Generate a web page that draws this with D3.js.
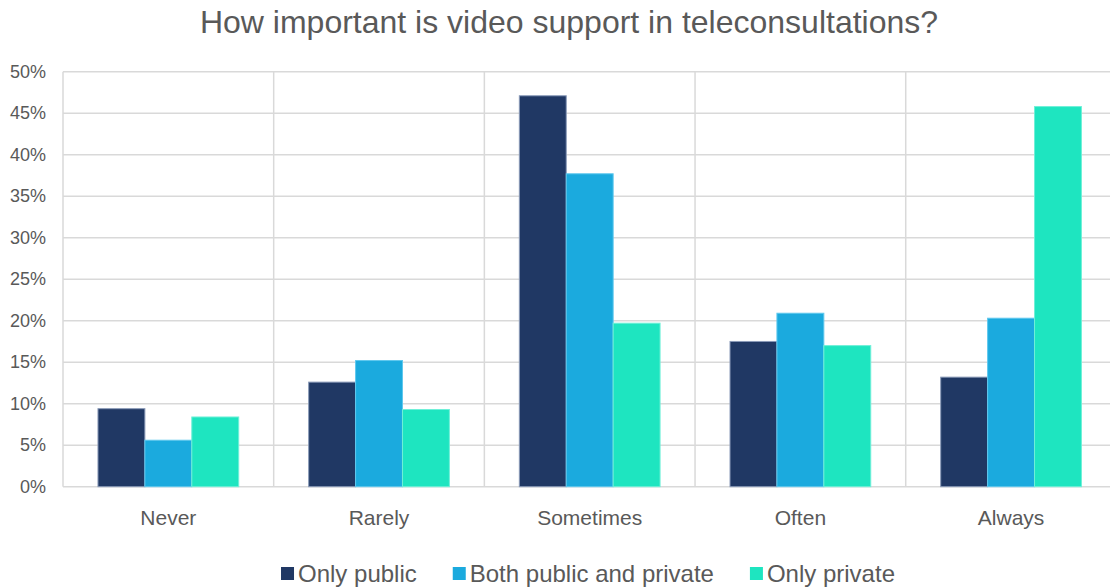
<!DOCTYPE html>
<html>
<head>
<meta charset="utf-8">
<script src="https://cdn.jsdelivr.net/npm/d3@7"></script>
<style>
  body { margin: 0; background: #fff; }
  text { font-family: "Liberation Sans", Arial, sans-serif; fill: #595959; }
</style>
</head>
<body>
<div id="chart"></div>
<script>
const categories = ["Never", "Rarely", "Sometimes", "Often", "Always"];
const seriesNames = ["Only public", "Both public and private", "Only private"];
const onlyPublic = [9.4, 12.6, 47.1, 17.5, 13.2];
const bothPublicPrivate = [5.6, 15.2, 37.7, 20.9, 20.3];
const onlyPrivate = [8.4, 9.3, 19.7, 17.0, 45.8];
const yTicks = [0, 5, 10, 15, 20, 25, 30, 35, 40, 45, 50];
const colors = ["#203864", "#1BAADE", "#1EE5C0"];
const strokes = ["#8a9ab8", "#5fc8ee", "#6ff0d8"];

const width = 1110, height = 588;
const margin = { top: 72, left: 63, bottom: 101 };
const plotRight = 1116.4;

const svg = d3.select("#chart").append("svg")
  .attr("width", width)
  .attr("height", height);

// build rows for the grouped bars
const values = [onlyPublic, bothPublicPrivate, onlyPrivate];
const data = categories.map(function (c, i) {
  return { cat: c, vals: seriesNames.map(function (s, j) { return { series: s, idx: j, v: values[j][i] }; }) };
});

const x = d3.scaleBand().domain(categories).range([margin.left, plotRight]).padding(0);
const x1 = d3.scaleBand().domain(seriesNames)
  .range([x.bandwidth() * 0.166, x.bandwidth() * 0.834]);
const y = d3.scaleLinear().domain([0, 50]).range([height - margin.bottom - 0.3, margin.top - 0.3]);

// horizontal grid
svg.append("g")
  .selectAll("line")
  .data(yTicks)
  .join("line")
  .attr("x1", margin.left)
  .attr("x2", plotRight)
  .attr("y1", d => y(d))
  .attr("y2", d => y(d))
  .attr("stroke", "#d9d9d9")
  .attr("stroke-width", 1.5);

// vertical separators between categories
svg.append("g")
  .selectAll("line")
  .data(categories.concat(["end"]))
  .join("line")
  .attr("x1", (d, i) => i < categories.length ? x(d) : plotRight)
  .attr("x2", (d, i) => i < categories.length ? x(d) : plotRight)
  .attr("y1", y(0))
  .attr("y2", y(50))
  .attr("stroke", "#d9d9d9")
  .attr("stroke-width", 1.5);

// y axis labels
const yAxis = svg.append("g")
  .attr("transform", `translate(${margin.left},0)`)
  .call(d3.axisLeft(y).tickValues(yTicks).tickSize(0).tickPadding(17).tickFormat(d => d + "%"));
yAxis.select(".domain").remove();
yAxis.selectAll("text")
  .style("font-size", "18px")
  .style("font-family", "'Liberation Sans', Arial, sans-serif")
  .attr("fill", "#595959");

// bars
const groups = svg.append("g")
  .selectAll("g")
  .data(data)
  .join("g")
  .attr("transform", d => `translate(${x(d.cat)},0)`);

groups.selectAll("rect")
  .data(d => d.vals)
  .join("rect")
  .attr("x", d => x1(d.series))
  .attr("width", x1.bandwidth())
  .attr("y", d => y(d.v))
  .attr("height", d => y(0) - y(d.v))
  .attr("fill", d => colors[d.idx])
  .attr("stroke", d => strokes[d.idx])
  .attr("stroke-width", 1);

// x labels
const xAxis = svg.append("g")
  .attr("transform", `translate(0,${y(0)})`)
  .call(d3.axisBottom(x).tickSize(0).tickPadding(23));
xAxis.select(".domain").remove();
xAxis.selectAll("text")
  .style("font-size", "21px")
  .style("font-family", "'Liberation Sans', Arial, sans-serif")
  .attr("fill", "#595959");

// title
svg.append("text")
  .attr("x", 569)
  .attr("y", 33)
  .attr("text-anchor", "middle")
  .style("font-size", "32px")
  .text("How important is video support in teleconsultations?");

// legend
const legend = svg.append("g").attr("transform", "translate(0,582)");
const items = legend.selectAll("g")
  .data(seriesNames)
  .join("g");
items.append("rect")
  .attr("width", 13)
  .attr("height", 13)
  .attr("y", -15)
  .attr("fill", (d, i) => colors[i]);
items.append("text")
  .attr("x", 17)
  .style("font-size", "24px")
  .text(d => d);

let widths = [];
items.select("text").each(function () { widths.push(this.getComputedTextLength() + 17); });
const gap = 36;
const total = d3.sum(widths) + gap * (widths.length - 1);
let cx = 588 - total / 2;
items.attr("transform", function (d, i) {
  const t = `translate(${cx},0)`;
  cx += widths[i] + gap;
  return t;
});
</script>
</body>
</html>
